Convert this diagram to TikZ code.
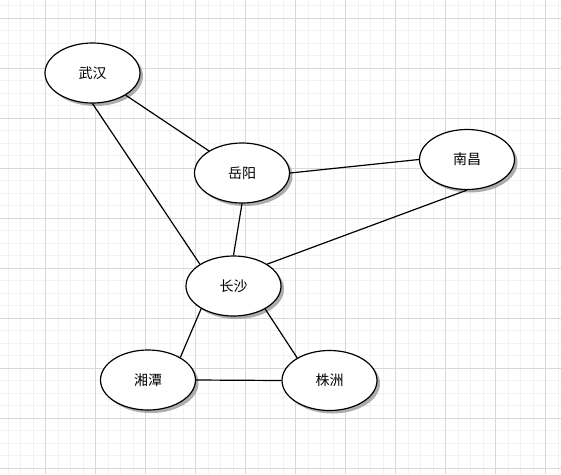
\documentclass[tikz,border=0pt]{standalone}
\usepackage{fontspec}
\usepackage{tikz}
\usetikzlibrary{shapes.geometric,shadows}
\newfontfamily\cjk{Noto Sans CJK SC}
\definecolor{gridminor}{RGB}{242,242,242}
\definecolor{gridmajor}{RGB}{216,216,216}

\begin{document}
\begin{tikzpicture}[x=1pt, y=-1pt,
  city/.style={ellipse, draw, line width=1.2pt, fill=white, minimum width=95pt, minimum height=60pt, inner sep=0pt,
    font=\cjk\fontsize{14}{16}\selectfont,
    drop shadow={shadow xshift=3pt, shadow yshift=-3pt, fill=black!40, opacity=0.8}},
  road/.style={line width=1.2pt}]
\useasboundingbox (0,0) rectangle (561,474);
\fill[white] (0,0) rectangle (561,474);

% grid
\foreach \i in {0,...,44} \draw[gridminor, line width=1pt] ({8+12.5*\i},0) -- ({8+12.5*\i},474);
\foreach \i in {0,...,37} \draw[gridminor, line width=1pt] (0,{5.8+12.5*\i}) -- (561,{5.8+12.5*\i});
\foreach \i in {0,...,10} \draw[gridmajor, line width=1pt] ({45.5+50*\i},0) -- ({45.5+50*\i},474);
\foreach \i in {0,...,9} \draw[gridmajor, line width=1pt] (0,{18.3+50*\i}) -- (561,{18.3+50*\i});

\node[city] (wh) at (92.5,73) {武汉};
\node[city] (yy) at (242,173) {岳阳};
\node[city] (nc) at (467,159.5) {南昌};
\node[city] (cs) at (233.5,286) {长沙};
\node[city] (xt) at (148,380) {湘潭};
\node[city] (zz) at (329.5,380.5) {株洲};

\draw[road] (wh) -- (yy);
\draw[road] (wh.south) -- (cs.147);
\draw[road] (yy.south) -- (cs.north);
\draw[road] (yy.east) -- (nc.west);
\draw[road] (nc.south) -- (cs.33);
\draw[road] (cs.215) -- (xt.35);
\draw[road] (cs.324) -- (zz.145);
\draw[road] (xt.east) -- (zz.west);
\end{tikzpicture}
\end{document}
